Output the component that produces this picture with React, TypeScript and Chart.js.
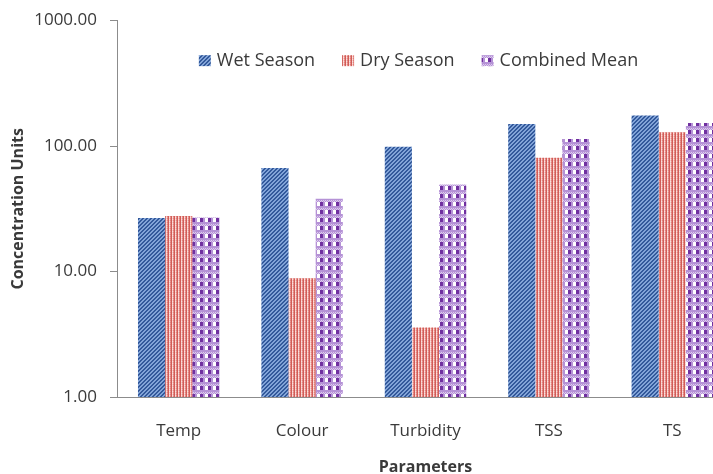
import React, { useEffect, useRef } from "react";
import { Chart, registerables } from "chart.js";

Chart.register(...registerables);

const categories = ["Temp", "Colour", "Turbidity", "TSS", "TS"];
const wetSeason = [26.7, 67, 99, 150, 175];
const drySeason = [27.7, 8.85, 3.58, 80.7, 129];
const combinedMean = [27, 38.1, 49.5, 114, 153];
const yTickValues = [1, 10, 100, 1000];

const FONT = "'Open Sans', 'DejaVu Sans', sans-serif";
const TEXT = "#3a3a3a";
const AXIS = "#8c8c8c";

function makeTile(w: number, h: number, draw: (c: CanvasRenderingContext2D) => void) {
  const cv = document.createElement("canvas");
  cv.width = w;
  cv.height = h;
  const c = cv.getContext("2d")!;
  draw(c);
  return c.createPattern(cv, "repeat")!;
}

function wetPattern() {
  return makeTile(4, 4, (c) => {
    for (let x = 0; x < 4; x++)
      for (let y = 0; y < 4; y++) {
        const k = (x + y) % 4;
        c.fillStyle = k < 2 ? "#33599b" : "#82a4d8";
        c.fillRect(x, y, 1, 1);
      }
  });
}

function dryPattern() {
  return makeTile(3, 2, (c) => {
    c.fillStyle = "#d05d58";
    c.fillRect(0, 0, 3, 2);
    c.fillStyle = "#f6c9c5";
    c.fillRect(1, 0, 1, 1);
    c.fillStyle = "#e99692";
    c.fillRect(2, 1, 1, 1);
    c.fillStyle = "#fbe0de";
    c.fillRect(1, 1, 1, 1);
    c.fillStyle = "#e07e79";
    c.fillRect(2, 0, 1, 1);
  });
}

function combinedPattern() {
  return makeTile(8, 8, (c) => {
    c.fillStyle = "#ffffff";
    c.fillRect(0, 0, 8, 8);
    for (let x = 0; x < 8; x++) {
      c.fillStyle = x % 2 === 0 ? "#b592d6" : "#dccaee";
      c.fillRect(x, 0, 1, 1);
      c.fillStyle = x % 2 === 1 ? "#b592d6" : "#dccaee";
      c.fillRect(x, 1, 1, 1);
    }
    c.fillStyle = "#b592d6";
    c.fillRect(0, 6, 8, 2);
    c.fillStyle = "#7030a0";
    c.fillRect(0, 2, 3, 4);
    c.fillStyle = "#b592d6";
    c.fillRect(3, 2, 2, 4);
  });
}

const legendPlugin = {
  id: "inlineLegend",
  afterDatasetsDraw(chart: any, _args: any, opts: any) {
    const ctx = chart.ctx as CanvasRenderingContext2D;
    const area = chart.chartArea;
    ctx.save();
    ctx.font = `${opts.fontSize}px ${FONT}`;
    ctx.textBaseline = "middle";
    ctx.textAlign = "left";
    const items = chart.data.datasets.map((d: any) => ({
      label: d.label,
      fill: d.backgroundColor,
      w: opts.box + opts.boxGap + ctx.measureText(d.label).width,
    }));
    const total =
      items.reduce((s: number, it: any) => s + it.w, 0) + opts.itemGap * (items.length - 1);
    let x = (area.left + area.right) / 2 + opts.offsetX - total / 2;
    const y = area.top + opts.offsetY;
    for (const it of items) {
      ctx.fillStyle = it.fill;
      ctx.fillRect(x, y - opts.box / 2, opts.box + 1, opts.box);
      ctx.fillStyle = TEXT;
      ctx.fillText(it.label, x + opts.box + opts.boxGap, y);
      x += it.w + opts.itemGap;
    }
    ctx.restore();
  },
};

export default function App() {
  const ref = useRef<HTMLCanvasElement>(null);
  useEffect(() => {
    const chart = new Chart(ref.current!, {
      type: "bar",
      data: {
        labels: categories,
        datasets: [
          { label: "Wet Season", data: wetSeason, backgroundColor: wetPattern() as any },
          { label: "Dry Season", data: drySeason, backgroundColor: dryPattern() as any },
          { label: "Combined Mean", data: combinedMean, backgroundColor: combinedPattern() as any },
        ],
      },
      options: {
        animation: false,
        responsive: false,
        layout: { padding: { top: 20, right: 11, left: 0, bottom: 0 } },
        datasets: { bar: { categoryPercentage: 0.66, barPercentage: 1, borderWidth: 0 } },
        plugins: {
          legend: { display: false },
          tooltip: { enabled: false },
          inlineLegend: { fontSize: 18, box: 11, boxGap: 7, itemGap: 27, offsetX: -7, offsetY: 40 },
        } as any,
        scales: {
          x: {
            grid: { display: false, drawTicks: false },
            border: { display: true, color: AXIS, width: 1 },
            ticks: { color: TEXT, font: { family: FONT, size: 17 }, padding: 24 },
            title: {
              display: true,
              text: "Parameters",
              color: TEXT,
              font: { family: FONT, size: 16, weight: "bold" },
              padding: { top: 0, bottom: 13 },
            },
            afterFit: (s: any) => {
              s.height = 93;
            },
          },
          y: {
            type: "logarithmic",
            min: 1,
            max: 1000,
            grid: { drawOnChartArea: false, drawTicks: true, tickLength: 7, color: AXIS },
            border: { display: true, color: AXIS, width: 1 },
            ticks: {
              color: TEXT,
              font: { family: FONT, size: 17, lineHeight: 0.9 },
              padding: 13,
              callback: (v: any) => Number(v).toFixed(2),
            },
            afterBuildTicks: (s: any) => {
              s.ticks = yTickValues.map((v) => ({ value: v, major: false }));
            },
            title: {
              display: true,
              text: "Concentration Units",
              color: TEXT,
              font: { family: FONT, size: 16, weight: "bold" },
              padding: { top: 9, bottom: 0 },
            },
            afterFit: (s: any) => {
              s.width = 117;
            },
          },
        },
      },
      plugins: [legendPlugin],
    });
    return () => chart.destroy();
  }, []);
  return (
    <div
      style={{
        position: "fixed",
        left: 0,
        top: 0,
        width: 713,
        height: 474,
        overflow: "hidden",
        background: "#fff",
      }}
    >
      <canvas ref={ref} width={745} height={490} style={{ display: "block" }} />
    </div>
  );
}
